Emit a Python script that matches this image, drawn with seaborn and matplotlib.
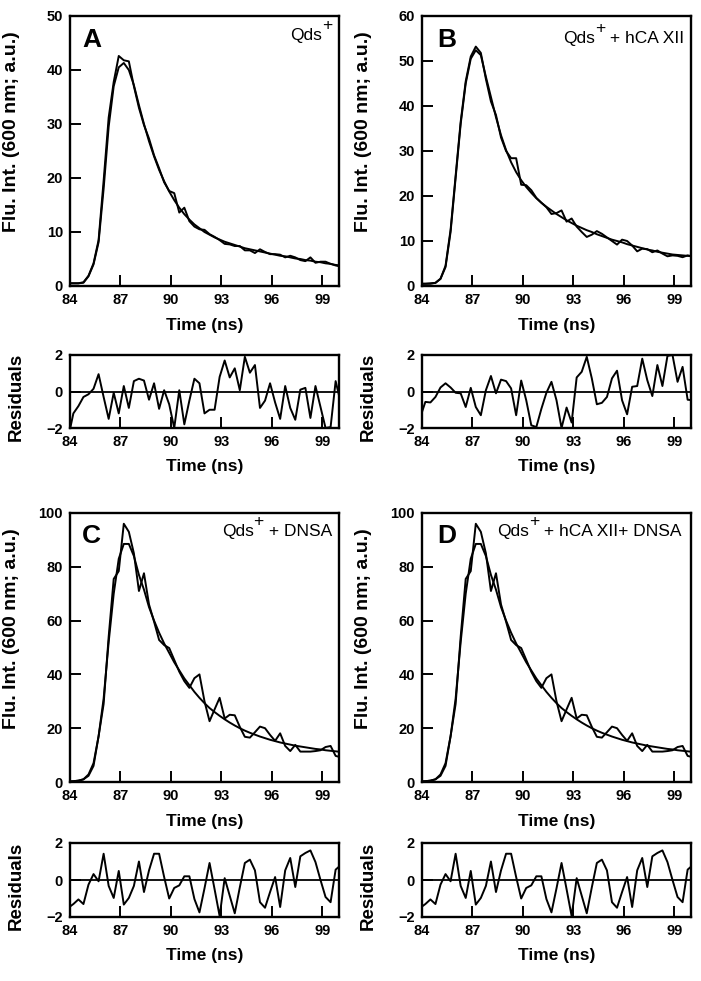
import numpy as np
import pandas as pd
import matplotlib
matplotlib.use("Agg")
import matplotlib.pyplot as plt
import seaborn as sns

# ---------------- data ----------------
time_ns = [83.9, 84.2, 84.5, 84.8, 85.1, 85.4, 85.7, 86.0, 86.3, 86.6,
           86.9, 87.2, 87.5, 87.8, 88.1, 88.4, 88.7, 89.0, 89.3, 89.6,
           89.9, 90.2, 90.5, 90.8, 91.1, 91.4, 91.7, 92.0, 92.3, 92.6,
           92.9, 93.2, 93.5, 93.8, 94.1, 94.4, 94.7, 95.0, 95.3, 95.6,
           95.9, 96.2, 96.5, 96.8, 97.1, 97.4, 97.7, 98.0, 98.3, 98.6,
           98.9, 99.2, 99.5, 99.8, 100.1]

# Panel A : Qds+
A_data = [0.5, 0.5, 0.5, 0.7, 1.9, 4.2, 8.5, 19.5, 31.2, 37.8,
          42.6, 41.8, 41.6, 37.0, 33.0, 29.8, 27.3, 24.2, 21.8, 19.2,
          17.6, 17.2, 13.6, 14.5, 12.0, 11.0, 10.5, 10.4, 9.6, 9.1,
          8.5, 7.8, 7.7, 7.4, 7.4, 6.6, 6.6, 6.1, 6.8, 6.3,
          5.9, 5.9, 5.8, 5.3, 5.6, 5.3, 4.8, 4.6, 5.3, 4.3,
          4.5, 4.5, 4.1, 3.8, 3.6]
A_fit = [0.5, 0.5, 0.5, 0.6, 1.8, 4.0, 8.1, 18.0, 29.5, 37.0,
         40.5, 41.3, 40.0, 37.2, 33.5, 30.0, 26.8, 24.0, 21.5, 19.4,
         17.5, 15.9, 14.5, 13.3, 12.3, 11.4, 10.7, 10.0, 9.5, 9.0,
         8.6, 8.2, 7.9, 7.6, 7.3, 7.0, 6.8, 6.6, 6.4, 6.2,
         6.0, 5.8, 5.6, 5.5, 5.3, 5.1, 5.0, 4.8, 4.7, 4.5,
         4.4, 4.2, 4.1, 3.9, 3.8]
A_resid = [-2.5, -1.2, -0.8, -0.3, -0.15, 0.15, 0.95, -0.3, -1.5, -0.07,
           -1.2, 0.3, -0.9, 0.57, 0.7, 0.6, -0.45, 0.45, -0.95, 0.07,
           -0.7, -2.0, 0.07, -1.8, -0.5, 0.7, 0.45, -1.2, -1.0, -1.0,
           0.8, 1.7, 0.77, 1.27, 0.07, 1.9, 1.03, 1.45, -0.9, -0.5,
           0.45, -0.6, -1.5, 0.3, -0.9, -1.55, 0.1, 0.2, -1.45, 0.3,
           -0.85, -2.0, -1.95, 0.57, -0.6]

# Panel B : Qds+ + hCA XII
B_data = [0.5, 0.5, 0.6, 0.7, 1.6, 4.5, 12.5, 24.5, 36.5, 45.5,
          51.0, 53.2, 51.8, 46.0, 41.0, 38.0, 33.0, 30.0, 28.4, 28.4,
          22.5, 22.4, 21.3, 19.6, 18.5, 17.5, 16.0, 16.2, 16.8, 14.3,
          15.0, 13.2, 12.0, 10.9, 11.4, 12.2, 11.6, 10.8, 10.0, 9.2,
          10.3, 10.0, 9.0, 7.7, 8.3, 8.2, 7.5, 7.9, 7.2, 6.6,
          6.8, 6.7, 6.4, 6.8, 6.6]
B_fit = [0.5, 0.5, 0.5, 0.7, 1.6, 4.2, 12.0, 24.0, 36.0, 45.0,
         50.5, 52.4, 51.3, 46.5, 42.0, 37.5, 33.5, 30.2, 27.5, 25.3,
         23.5, 22.0, 20.7, 19.5, 18.5, 17.6, 16.8, 16.0, 15.3, 14.6,
         14.0, 13.4, 12.9, 12.4, 12.0, 11.5, 11.1, 10.7, 10.3, 10.0,
         9.7, 9.3, 9.0, 8.7, 8.4, 8.1, 7.9, 7.6, 7.4, 7.2,
         7.0, 6.9, 6.8, 6.7, 6.6]
B_resid = [-1.4, -0.57, -0.6, -0.3, 0.22, 0.45, 0.22, -0.07, -0.1, -0.85,
           0.2, -0.85, -1.3, 0.07, 0.85, -0.1, 0.65, 0.57, 0.17, -1.3,
           0.6, -0.48, -1.85, -1.95, -0.95, -0.07, 0.53, -0.48, -2.0, -0.88,
           -1.7, 0.77, 1.08, 1.9, 0.72, -0.7, -0.62, -0.3, 0.72, 1.14,
           -0.48, -1.25, 0.26, 0.3, 1.8, 0.62, -0.25, 1.45, 0.3, 1.95,
           2.0, 0.53, 1.35, -0.45, -0.48]

# Panels C and D : Qds+ + DNSA / Qds+ + hCA XII + DNSA
C_data = [0.2, 0.3, 0.5, 1.0, 2.3, 6.0, 17.0, 29.0, 54.0, 75.5,
          78.4, 96.0, 93.0, 85.0, 71.0, 77.6, 66.0, 59.6, 52.8, 50.9,
          49.8, 45.4, 41.0, 37.5, 35.0, 38.6, 40.0, 30.0, 22.6, 27.0,
          31.3, 23.6, 25.0, 24.8, 20.5, 16.8, 16.5, 18.5, 20.6, 20.0,
          17.5, 15.3, 18.1, 13.4, 11.5, 13.8, 11.3, 11.3, 11.3, 11.5,
          11.8, 13.0, 13.4, 9.7, 9.2]
C_fit = [0.2, 0.3, 0.5, 1.0, 2.8, 7.0, 17.0, 31.0, 52.0, 70.0,
         83.0, 88.5, 88.5, 84.0, 77.0, 71.5, 65.0, 60.0, 55.5, 51.5,
         48.0, 44.5, 41.5, 38.5, 36.0, 33.5, 31.3, 29.3, 27.5, 26.0,
         24.6, 23.3, 22.1, 21.0, 20.0, 19.1, 18.3, 17.6, 16.9, 16.3,
         15.7, 15.2, 14.7, 14.3, 13.9, 13.5, 13.2, 12.9, 12.6, 12.3,
         12.1, 11.8, 11.6, 11.4, 11.2]
C_resid = [-1.5, -1.3, -1.05, -1.3, -0.25, 0.32, -0.07, 1.42, -0.32, -0.97,
           0.49, -1.33, -0.97, -0.32, 1.0, -0.65, 0.52, 1.42, 1.42, 0.16,
           -1.0, -0.43, -0.29, 0.2, 0.2, -1.03, -1.75, -0.45, 0.92, -0.5,
           -1.95, 0.1, -0.85, -1.8, -0.4, 0.92, 1.1, 0.52, -1.2, -1.5,
           -0.65, 0.16, -1.46, 0.52, 1.19, -0.38, 1.28, 1.46, 1.6, 0.97,
           0.0, -0.92, -1.2, 0.56, 0.8]

panel_letters = ["A", "B", "C", "D"]
label_base = "Qds"
label_sup = "+"
label_rest = ["", " + hCA XII", " + DNSA", " + hCA XII+ DNSA"]
y_max = [50, 60, 100, 100]
y_step = [10, 10, 20, 20]
x_ticks = [84, 87, 90, 93, 96, 99]
resid_ticks = [-2, 0, 2]

datasets = [(A_data, A_fit, A_resid), (B_data, B_fit, B_resid),
            (C_data, C_fit, C_resid), (C_data, C_fit, C_resid)]

# ---------------- style ----------------
sns.set_style("ticks")
plt.rcParams["font.family"] = ["Liberation Sans", "DejaVu Sans"]
plt.rcParams["font.weight"] = "bold"
plt.rcParams["axes.labelweight"] = "bold"
for key in ["text.color", "axes.labelcolor", "xtick.color", "ytick.color",
            "axes.edgecolor"]:
    plt.rcParams[key] = "black"

W, H = 701, 981
fig = plt.figure(figsize=(W / 100, H / 100), dpi=100)

def add_axes(x0, y0, x1, y1):
    return fig.add_axes([x0 / W, 1 - y1 / H, (x1 - x0) / W, (y1 - y0) / H])

cols = [(70, 339), (422, 691)]
rows_main = [(16, 286), (513, 782)]
rows_res = [(355, 428), (843, 917)]

spine_lw = 1.7
line_lw = 1.4
ann_fs = 12.5

def style_axes(a):
    a.tick_params(direction="in", length=8, width=1.4, labelsize=10.5,
                  pad=5, top=False, right=False, colors="black")
    for s in a.spines.values():
        s.set_linewidth(spine_lw)
        s.set_visible(True)
        s.set_color("black")

for i in range(4):
    c = cols[i % 2]
    r = i // 2
    data, fit, resid = datasets[i]

    # main decay panel
    ax = add_axes(c[0], rows_main[r][0], c[1], rows_main[r][1])
    df = pd.DataFrame({"t": time_ns, "data": data, "fit": fit})
    sns.lineplot(data=df, x="t", y="data", ax=ax, color="black", lw=line_lw,
                 estimator=None, sort=False)
    sns.lineplot(data=df, x="t", y="fit", ax=ax, color="black", lw=line_lw,
                 estimator=None, sort=False)
    ax.set_xlim(84, 100)
    ax.set_ylim(0, y_max[i])
    ax.set_xticks(x_ticks)
    ax.set_yticks(np.arange(0, y_max[i] + 1, y_step[i]))
    ax.set_xlabel("Time (ns)", fontsize=12.5, fontweight="bold", labelpad=8)
    ax.set_ylabel("Flu. Int. (600 nm; a.u.)", fontsize=14, fontweight="bold")
    ax.yaxis.set_label_coords(-0.186, 0.57)
    style_axes(ax)
    lx = 0.045 if i % 2 == 0 else 0.055
    ax.text(lx, 0.887, panel_letters[i], transform=ax.transAxes,
            fontsize=19, fontweight="bold", va="baseline", ha="left")

    # annotation "Qds⁺ + ..." built from pieces (large raised superscript)
    ty = 0.9 if r == 0 else 0.915
    tx = 0.974 if i != 3 else 0.965
    rest = ax.text(tx, ty, label_rest[i], transform=ax.transAxes,
                   fontsize=ann_fs, fontweight="normal",
                   va="baseline", ha="right")
    sup = ax.annotate(label_sup, xy=(0, 0), xycoords=rest,
                      xytext=(0, 7), textcoords="offset points",
                      fontsize=ann_fs, fontweight="normal",
                      va="bottom", ha="right")
    ax.annotate(label_base, xy=(0, 0), xycoords=sup,
                xytext=(0, -7), textcoords="offset points",
                fontsize=ann_fs, fontweight="normal",
                va="bottom", ha="right")

    # residual panel
    axr = add_axes(c[0], rows_res[r][0], c[1], rows_res[r][1])
    dr = pd.DataFrame({"t": time_ns, "res": resid})
    sns.lineplot(data=dr, x="t", y="res", ax=axr, color="black", lw=line_lw,
                 estimator=None, sort=False)
    axr.axhline(0, color="black", lw=1.3)
    axr.set_xlim(84, 100)
    axr.set_ylim(-2, 2)
    axr.set_xticks(x_ticks)
    axr.set_yticks(resid_ticks)
    axr.set_xlabel("Time (ns)", fontsize=12.5, fontweight="bold", labelpad=7)
    axr.set_ylabel("Residuals", fontsize=13.5, fontweight="bold")
    axr.yaxis.set_label_coords(-0.167, 0.42)
    style_axes(axr)

fig.savefig("out.png", dpi=100)
